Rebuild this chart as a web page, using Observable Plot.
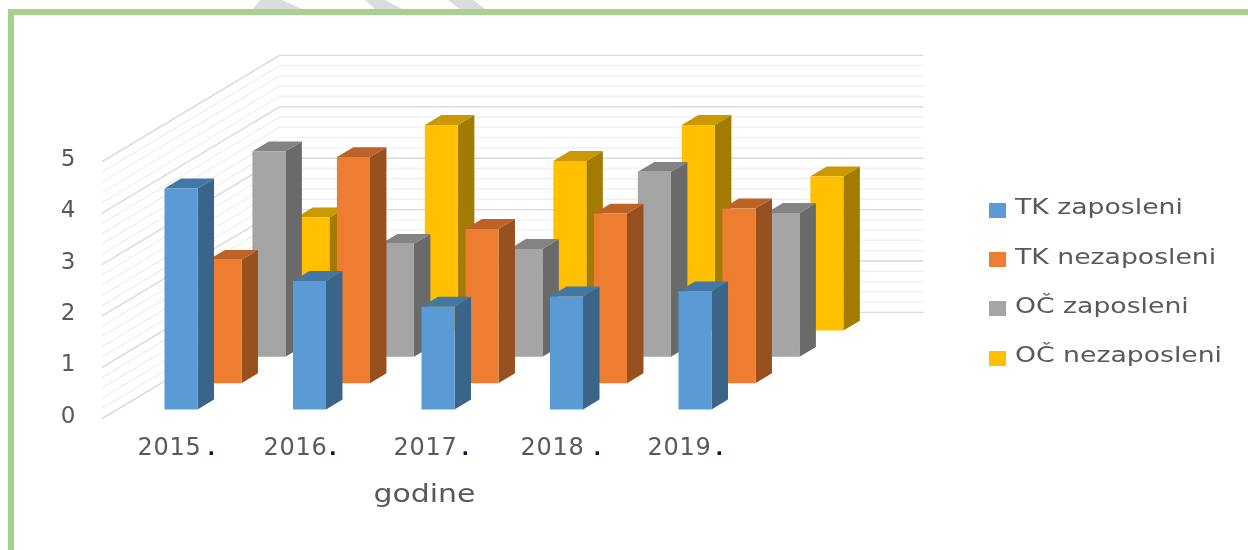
<!DOCTYPE html>
<html>
<head>
<meta charset="utf-8">
<script src="https://cdn.jsdelivr.net/npm/d3@7"></script>
<script src="https://cdn.jsdelivr.net/npm/@observablehq/plot@0.6"></script>
<style>
  html, body { margin: 0; padding: 0; background: #fff; }
  #page { position: relative; width: 1248px; height: 550px; overflow: hidden; background: #fff; font-family: "DejaVu Sans", sans-serif; }
  #chart { position: absolute; left: 0; top: 0; filter: blur(0.65px); }
  #chart svg { display: block; background: transparent; }
  .frame-top { position: absolute; left: 8px; right: 0; top: 9px; height: 6px; background: #A9D18E; }
  .frame-left { position: absolute; left: 8px; top: 9px; bottom: 0; width: 6px; background: #A9D18E; }
  .mark { position: absolute; top: 0; height: 9px; background: #DCDCDC; }
  #legend { position: absolute; left: 989px; top: 0; filter: blur(0.6px); }
  .key { position: absolute; left: 0; width: 17px; height: 15px; }
  .lab { position: absolute; left: 26px; white-space: nowrap; color: #595959; font-size: 21px; line-height: 24px; transform: scaleX(1.27); transform-origin: left center; }
</style>
</head>
<body>
<div id="page">
  <div class="mark" style="left:253px;width:49px;clip-path:polygon(0 100%,14% 0,59% 0,100% 100%)"></div>
  <div class="mark" style="left:365px;width:37px;clip-path:polygon(0 0,54% 0,100% 100%,27% 100%)"></div>
  <div class="mark" style="left:448px;width:37px;clip-path:polygon(0 0,68% 0,100% 100%,32% 100%)"></div>
  <div class="frame-top"></div>
  <div class="frame-left"></div>
  <div id="chart"></div>
  <div id="legend"></div>
</div>
<script>
const years = [2015, 2016, 2017, 2018, 2019];
const seriesNames = ["TK zaposleni", "TK nezaposleni", "OČ zaposleni", "OČ nezaposleni"];
const tkZaposleni = [4.3, 2.5, 2.0, 2.2, 2.3];
const tkNezaposleni = [2.4, 4.4, 3.0, 3.3, 3.4];
const ocZaposleni = [4.0, 2.2, 2.1, 3.6, 2.8];
const ocNezaposleni = [2.2, 4.0, 3.3, 4.0, 3.0];
const seriesValues = [tkZaposleni, tkNezaposleni, ocZaposleni, ocNezaposleni];

const frontColors = ["#5B9BD5", "#ED7D31", "#A5A5A5", "#FFC000"];
const sideColors = ["#3A6489", "#98501F", "#6A6A6A", "#A37B00"];
const topColors = ["#4277A6", "#BC6327", "#838383", "#CA9800"];

// Oblique projection: every depth row shifts along x (in years) and y (in values)
const depthX = 0.342, depthY = 0.512;
const baseY = 0.117;
const barWidth = 0.257, barDepth = 0.375;
const wallFront = -0.34, wallBack = 3.69, wallLeft = 2014.634, wallRight = 2019.64;
const px = (year, depth) => year + depth * depthX;
const py = (value, depth) => value + baseY + depth * depthY;

const gridValues = d3.range(0, 26).map(i => i / 5);
const gridPoints = gridValues.flatMap(v => [
  [wallLeft, wallFront], [wallLeft, wallBack], [wallRight, wallBack]
].map(([u, d]) => ({ x: px(u, d), y: py(v, d), id: v, major: Number.isInteger(v) })));

const faces = [];
function face(id, fill, corners) {
  for (const [u, d, v] of corners) faces.push({ x: px(u, d), y: py(v, d), id, fill });
}
for (let s = seriesValues.length - 1; s >= 0; s--) {
  years.forEach((year, i) => {
    const v = seriesValues[s][i];
    const a = year, b = year + barWidth, d0 = s, d1 = s + barDepth;
    face(`${s}-${i}-side`, sideColors[s], [[b, d0, 0], [b, d1, 0], [b, d1, v], [b, d0, v]]);
    face(`${s}-${i}-top`, topColors[s], [[a, d0, v], [b, d0, v], [b, d1, v], [a, d1, v]]);
    face(`${s}-${i}-front`, frontColors[s], [[a, d0, 0], [b, d0, 0], [b, d0, v], [a, d0, v]]);
  });
}

const chart = Plot.plot({
  width: 1248,
  height: 550,
  marginLeft: 76,
  marginRight: 476,
  marginTop: 0,
  marginBottom: 113,
  style: { background: "transparent", fontFamily: "'DejaVu Sans', sans-serif" },
  x: { type: "linear", domain: [2015, 2016], range: [164, 292.5] },
  y: { type: "linear", domain: [0, 5], range: [415, 158] },
  marks: [
    Plot.line(gridPoints.filter(d => !d.major), { x: "x", y: "y", z: "id", stroke: "#F0F0F0", strokeWidth: 1.4 }),
    Plot.line(gridPoints.filter(d => d.major), { x: "x", y: "y", z: "id", stroke: "#D9D9D9", strokeWidth: 1.4 }),
    Plot.line(faces, { x: "x", y: "y", z: "id", fill: "fill", stroke: "none" }),
    Plot.axisY({ ticks: [0, 1, 2, 3, 4, 5], tickFormat: d => String(d), tickSize: 0, tickPadding: 1, label: null, fontSize: 23, fill: "#595959", anchor: "left" }),
    Plot.axisX({
      ticks: years, tickSize: 0, tickPadding: 0, tickFormat: d => String(d), dx: -28, fontSize: 24, fill: "#595959", textAnchor: "start",
      label: "godine", labelAnchor: "center", labelArrow: "none", labelOffset: 64, anchor: "bottom"
    })
  ]
});
document.getElementById("chart").append(chart);

// Year labels end with a small dark dot, the axis title is wider than its font
const labelShifts = [1, -1.5, 0, -1.5, -3];
const dotGaps = [6, 1.5, 4, 9, 4];
d3.select(chart).selectAll("[aria-label='x-axis tick label'] text").each(function (d, i) {
  const t = d3.select(this).attr("dx", labelShifts[i]).style("letter-spacing", "0.7px");
  t.append("tspan").attr("dx", dotGaps[i]).attr("fill", "#10103a").attr("font-weight", "bold").style("font-size", "20px").text(".");
});
d3.select(chart).selectAll("[aria-label='x-axis label'] text")
  .attr("textLength", 102).attr("lengthAdjust", "spacingAndGlyphs").style("font-size", "24px");

const legendRows = [[210, 207], [259, 257], [308, 306], [358, 355]];
const legend = d3.select("#legend");
seriesNames.forEach((name, i) => {
  legend.append("div").attr("class", "key").style("top", `${legendRows[i][0] - 7}px`).style("background", frontColors[i]);
  legend.append("div").attr("class", "lab").style("top", `${legendRows[i][1] - 12}px`).text(name);
});
</script>
</body>
</html>
